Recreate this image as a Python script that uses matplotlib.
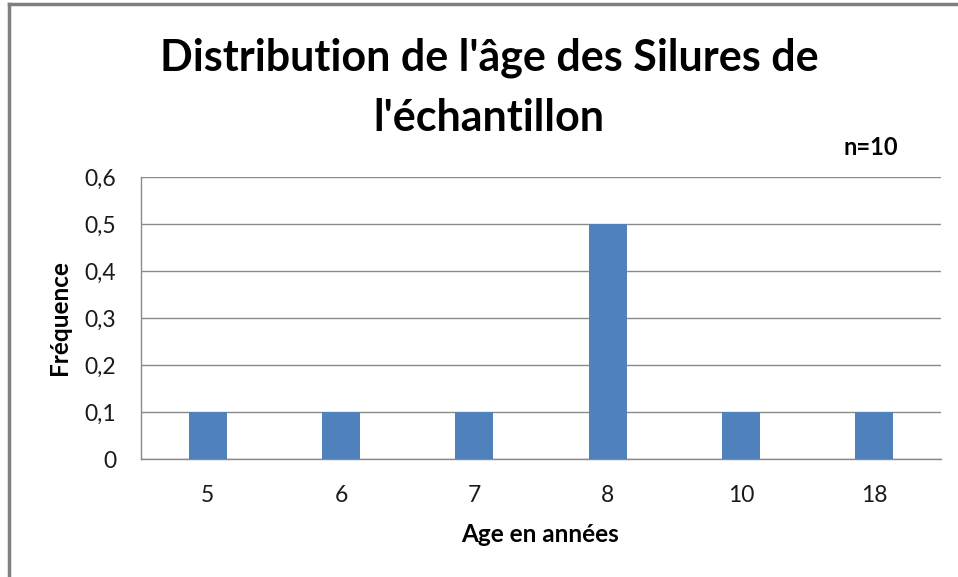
import matplotlib.pyplot as plt
from matplotlib.lines import Line2D

ages = ["5", "6", "7", "8", "10", "18"]
frequences = [0.1, 0.1, 0.1, 0.5, 0.1, 0.1]
y_ticks = [0, 0.1, 0.2, 0.3, 0.4, 0.5, 0.6]
y_labels = ["0", "0,1", "0,2", "0,3", "0,4", "0,5", "0,6"]

plt.rcParams["font.family"] = ["Lato", "DejaVu Sans"]

W, H = 958, 577
fig = plt.figure(figsize=(W / 100, H / 100), dpi=100)
ax = fig.add_axes([141 / W, 1 - 459 / H, 800 / W, 282 / H])

x = list(range(len(ages)))
ax.bar(x, frequences, width=0.285, color="#4F81BD", zorder=3)

ax.set_xlim(-0.5, len(ages) - 0.5)
ax.set_ylim(0, 0.6)
ax.set_yticks(y_ticks)
ax.set_yticklabels(y_labels, fontsize=16.5, color="#1a1a1a")
ax.set_xticks(x)
ax.set_xticklabels(ages, fontsize=16.5, color="#1a1a1a")
ax.tick_params(length=0)
ax.tick_params(axis="x", pad=19)
ax.tick_params(axis="y", pad=18)
ax.grid(axis="y", color="#8a8a8a", linewidth=1, zorder=0)

for side in ["top", "right"]:
    ax.spines[side].set_visible(False)
for side in ["left", "bottom"]:
    ax.spines[side].set_color("#8a8a8a")
    ax.spines[side].set_linewidth(1)

# axis titles
fig.text(540 / W, 1 - 542 / H, "Age en années", fontsize=17.5, fontweight="bold",
         ha="center", va="baseline")
fig.text(67 / W, 1 - 318 / H, "Fréquence", fontsize=17.5, fontweight="bold",
         rotation=90, ha="center", va="baseline", rotation_mode="anchor")

# title and sample size
fig.text(489 / W, 1 - 70 / H, "Distribution de l'âge des Silures de", fontsize=31,
         fontweight="bold", ha="center", va="baseline")
fig.text(489 / W, 1 - 131 / H, "l'échantillon", fontsize=31,
         fontweight="bold", ha="center", va="baseline")
fig.text(871 / W, 1 - 155 / H, "n=10", fontsize=17, fontweight="bold",
         ha="center", va="baseline")

# chart frame, only left and top edges are in the picture
fig.add_artist(Line2D([9 / W, 9 / W], [0, 1 - 4 / H], transform=fig.transFigure,
                      color="#7f7f7f", linewidth=2.5))
fig.add_artist(Line2D([9 / W, 1], [1 - 4 / H, 1 - 4 / H], transform=fig.transFigure,
                      color="#7f7f7f", linewidth=2.5))

fig.savefig("out.png", dpi=100)
